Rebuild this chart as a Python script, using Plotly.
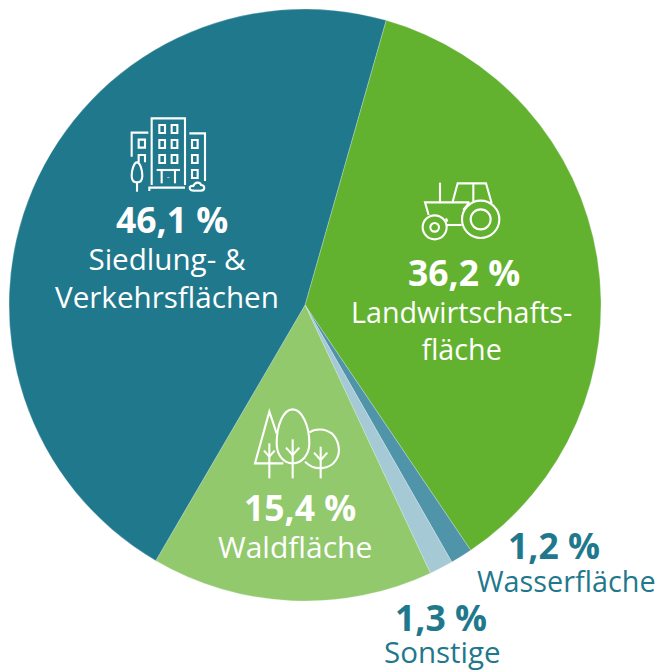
import plotly.graph_objs as go

W = 655
H = 670

categories = ['Landwirtschaftsfläche', 'Wasserfläche', 'Sonstige', 'Waldfläche', 'Siedlung- & Verkehrsflächen']
values = [36.2, 1.2, 1.3, 15.4, 46.1]
value_labels = ['36,2 %', '1,2 %', '1,3 %', '15,4 %', '46,1 %']
name_labels = ['Landwirtschafts-<br>fläche', 'Wasserfläche', 'Sonstige', 'Waldfläche', 'Siedlung- &<br>Verkehrsflächen']
colors = ['#63b22f', '#4f94a8', '#a5cad6', '#92c96c', '#1f788c']

TEAL = '#1f788c'
WHITE = '#ffffff'

# where the labels sit, in page pixels
value_pos = [(464, 272), (554, 545), (441, 617), (300, 507), (172, 219)]
name_pos = [(461, 330), (566, 580), (442, 651), (295, 546), (167, 278)]
name_sizes = [28.7, 28.8, 29.5, 30, 29.6]
text_colors = [WHITE, TEAL, TEAL, WHITE, WHITE]


def px(x, y):
    return x / W, 1 - y / H


def path(points, closed=False):
    parts = []
    for i, p in enumerate(points):
        x, y = px(p[0], p[1])
        parts.append(('M' if i == 0 else 'L') + f'{x:.5f},{y:.5f}')
    return ' '.join(parts) + (' Z' if closed else '')


def curve(start, *segments):
    x, y = px(*start)
    d = f'M{x:.5f},{y:.5f}'
    for seg in segments:
        d += ' C' + ' '.join('{:.5f},{:.5f}'.format(*px(*p)) for p in seg)
    return d


shapes = []


def stroke(d, width=2.1, color=WHITE):
    shapes.append(dict(type='path', xref='paper', yref='paper', path=d,
                       line=dict(color=color, width=width)))


def line(ox, oy, *pts, closed=False):
    stroke(path([(ox + a / 3, oy + b / 3) for a, b in pts], closed))


def circle(ox, oy, cx, cy, r):
    x0, y0 = px(ox + (cx - r) / 3, oy + (cy - r) / 3)
    x1, y1 = px(ox + (cx + r) / 3, oy + (cy + r) / 3)
    shapes.append(dict(type='circle', xref='paper', yref='paper', x0=x0, y0=y0, x1=x1, y1=y1,
                       line=dict(color=WHITE, width=2.1)))


def crv(ox, oy, start, *segs):
    f = lambda p: (ox + p[0] / 3, oy + p[1] / 3)
    stroke(curve(f(start), *[[f(p) for p in s] for s in segs]))


# building icon
ox, oy = 120, 105
line(ox, oy, (95, 240), (95, 40), (195, 40), (195, 240))
line(ox, oy, (88, 258), (88, 248), (195, 248))
for wx in (118, 155):
    for wy in (60, 105, 150):
        line(ox, oy, (wx, wy), (wx + 17, wy), (wx + 17, wy + 24), (wx, wy + 24), closed=True)
line(ox, oy, (110, 195), (180, 195))
line(ox, oy, (125, 195), (125, 235))
line(ox, oy, (165, 195), (165, 235))
line(ox, oy, (145, 217), (145, 219))
line(ox, oy, (35, 155), (35, 83), (85, 83))
line(ox, oy, (56, 104), (75, 104), (75, 128), (56, 128), closed=True)
line(ox, oy, (56, 172), (56, 150), (75, 150), (75, 172))
crv(ox, oy, (51, 172), [(42, 172), (35, 195), (35, 212)], [(35, 225), (42, 232), (51, 232)],
    [(60, 232), (67, 225), (67, 212)], [(67, 195), (60, 172), (51, 172)])
line(ox, oy, (51, 232), (51, 260))
line(ox, oy, (208, 85), (255, 85), (255, 228))
for wy in (105, 150, 195):
    line(ox, oy, (216, wy), (233, wy), (233, wy + 24), (216, wy + 24), closed=True)
crv(ox, oy, (222, 257), [(205, 257), (205, 240), (220, 243)], [(225, 230), (240, 230), (243, 240)],
    [(256, 240), (256, 257), (243, 257)])
line(ox, oy, (222, 257), (243, 257))

# tractor icon
ox, oy = 410, 170
circle(ox, oy, 212, 148, 56)
circle(ox, oy, 212, 148, 30)
circle(ox, oy, 74, 172, 36)
circle(ox, oy, 74, 172, 13)
line(ox, oy, (90, 38), (90, 95))
line(ox, oy, (178, 97), (45, 97), (56, 135))
line(ox, oy, (128, 95), (143, 40), (228, 40), (245, 100))
line(ox, oy, (190, 40), (190, 95))
line(ox, oy, (110, 165), (155, 165))
line(ox, oy, (178, 97), (160, 120))
line(ox, oy, (108, 145), (112, 155))

# trees icon
ox, oy = 250, 400
line(ox, oy, (80, 100), (58, 35), (15, 190), (100, 190))
line(ox, oy, (58, 130), (58, 235))
line(ox, oy, (42, 152), (58, 170))
line(ox, oy, (74, 152), (58, 170))
crv(ox, oy, (128, 28), [(100, 28), (80, 75), (80, 130)], [(80, 165), (100, 190), (128, 190)],
    [(155, 190), (178, 165), (178, 130)], [(178, 75), (155, 28), (128, 28)])
line(ox, oy, (128, 118), (128, 235))
line(ox, oy, (108, 143), (128, 165))
line(ox, oy, (148, 143), (128, 165))
crv(ox, oy, (178, 97), [(195, 85), (225, 85), (245, 100)], [(265, 118), (275, 155), (258, 180)],
    [(240, 208), (195, 215), (165, 185)])
line(ox, oy, (212, 140), (212, 235))
line(ox, oy, (192, 158), (212, 180))
line(ox, oy, (232, 158), (212, 180))

annotations = []
for val, name, vp, np_, col, ns in zip(value_labels, name_labels, value_pos, name_pos, text_colors, name_sizes):
    x, y = px(*vp)
    annotations.append(dict(text=val, x=x, y=y, xref='paper', yref='paper', showarrow=False,
                            xanchor='center', yanchor='middle',
                            font=dict(family='Open Sans', size=35.5, color=col, weight=700)))
    x, y = px(*np_)
    annotations.append(dict(text=name, x=x, y=y, xref='paper', yref='paper', showarrow=False,
                            xanchor='center', yanchor='middle',
                            font=dict(family='Open Sans', size=ns, color=col)))

pie = go.Pie(labels=categories, values=values, sort=False, direction='clockwise', rotation=15.9,
             textinfo='none', hoverinfo='label+percent', showlegend=False,
             marker=dict(colors=colors, line=dict(color='#e8f2f0', width=0.3)),
             domain=dict(x=[9 / W, 601 / W], y=[1 - 601 / H, 1 - 9 / H]))

fig = go.Figure(data=[pie])
fig.update_layout(width=W, height=H, margin=dict(l=0, r=0, t=0, b=0), paper_bgcolor='white',
                  shapes=shapes, annotations=annotations)

# the browser's default body margin would push the chart off the page
fig.write_html("out.html", post_script="document.body.style.margin='0';",
               config=dict(displayModeBar=False))
